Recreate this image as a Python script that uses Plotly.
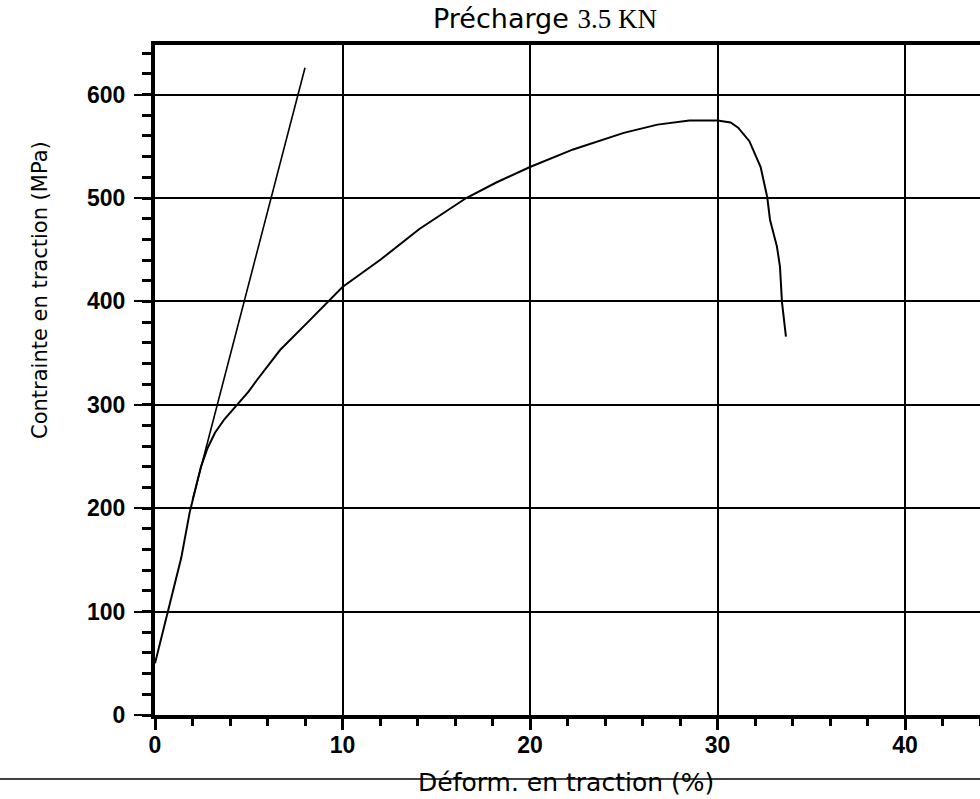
import plotly.graph_objects as go

# ---- data ----
curve_strain = [0.0, 0.27, 0.53, 0.7, 1.0, 1.4, 1.85, 2.2, 2.45, 2.8, 3.2, 3.7, 4.37, 5.0,
                5.44, 6.67, 8.1, 9.24, 10.0, 11.0, 12.0, 14.1, 16.6, 18.2, 20.0, 22.3,
                25.0, 26.8, 28.5, 30.0, 30.7, 31.1, 31.7, 32.3, 32.65, 32.8, 33.17,
                33.33, 33.44, 33.65]
curve_stress = [50, 70, 88, 100, 122, 152, 196, 222, 240, 258, 273, 286, 300, 313,
                324, 353, 379, 400, 414, 427, 440, 470, 500, 515, 530, 547,
                563, 571, 575, 575, 573, 568, 555, 530, 501, 479, 453,
                434, 399, 366]

line_strain = [2.0, 8.0]
line_stress = [208, 626]

x_tickvals = [0, 10, 20, 30, 40]
x_ticktext = ["0", "10", "20", "30", "40"]
y_tickvals = [0, 100, 200, 300, 400, 500, 600]
y_ticktext = ["0", "100", "200", "300", "400", "500", "600"]

title_text = 'Précharge <span style="font-family:Liberation Serif">3.5 KN</span>'
x_title = "Déform. en traction (%)"
y_title = "Contrainte en traction (MPa)"

W, H = 980, 799
L, R, T, B = 155, 0, 45, 84
pw, ph = W - L - R, H - T - B

fig = go.Figure()
fig.add_trace(go.Scatter(x=curve_strain, y=curve_stress, mode="lines",
                         line=dict(color="black", width=2), showlegend=False))
fig.add_trace(go.Scatter(x=line_strain, y=line_stress, mode="lines",
                         line=dict(color="black", width=1.6), showlegend=False))

tickfont = dict(family="Liberation Sans, Arial", size=23, color="black", weight="bold")

fig.update_layout(
    width=W, height=H,
    margin=dict(l=L, r=R, t=T, b=B, pad=0),
    paper_bgcolor="white", plot_bgcolor="white",
    showlegend=False,
    xaxis=dict(range=[0, 44], tickvals=x_tickvals, ticktext=x_ticktext,
               showgrid=True, gridcolor="black", gridwidth=2, zeroline=False,
               showline=True, linecolor="black", linewidth=4, mirror=True,
               ticks="outside", ticklen=11, tickwidth=3, tickcolor="black",
               tickfont=tickfont, ticklabelstandoff=-5,
               minor=dict(dtick=2, ticks="outside", ticklen=7, tickwidth=3,
                          tickcolor="black", showgrid=False)),
    yaxis=dict(range=[0, 648], tickvals=y_tickvals, ticktext=y_ticktext,
               showgrid=True, gridcolor="black", gridwidth=2, zeroline=False,
               showline=True, linecolor="black", linewidth=4, mirror=False,
               ticks="outside", ticklen=17, tickwidth=2, tickcolor="black",
               tickfont=tickfont, ticklabelstandoff=4,
               minor=dict(dtick=20, ticks="outside", ticklen=9, tickwidth=3,
                          tickcolor="black", showgrid=False)),
)

def px_x(p):
    return (p - L) / pw

def px_y(p):
    return (H - B - p) / ph

# scan line crossing under the x-axis title
fig.add_shape(type="line", xref="paper", yref="paper",
              x0=px_x(0), x1=px_x(W), y0=px_y(779), y1=px_y(779),
              line=dict(color="black", width=1.5), layer="below")

fig.add_annotation(text=title_text, xref="paper", yref="paper",
                   x=px_x(545), y=px_y(18), showarrow=False,
                   xanchor="center", yanchor="middle",
                   font=dict(family="DejaVu Sans", size=27, color="black"))
fig.add_annotation(text=x_title, xref="paper", yref="paper",
                   x=px_x(566), y=px_y(782), showarrow=False,
                   xanchor="center", yanchor="middle",
                   font=dict(family="DejaVu Sans", size=25, color="black"))
fig.add_annotation(text=y_title, xref="paper", yref="paper",
                   x=px_x(40), y=px_y(290), showarrow=False, textangle=-90,
                   xanchor="center", yanchor="middle",
                   font=dict(family="DejaVu Sans", size=21, color="black"))

fig.write_html("out.html")
